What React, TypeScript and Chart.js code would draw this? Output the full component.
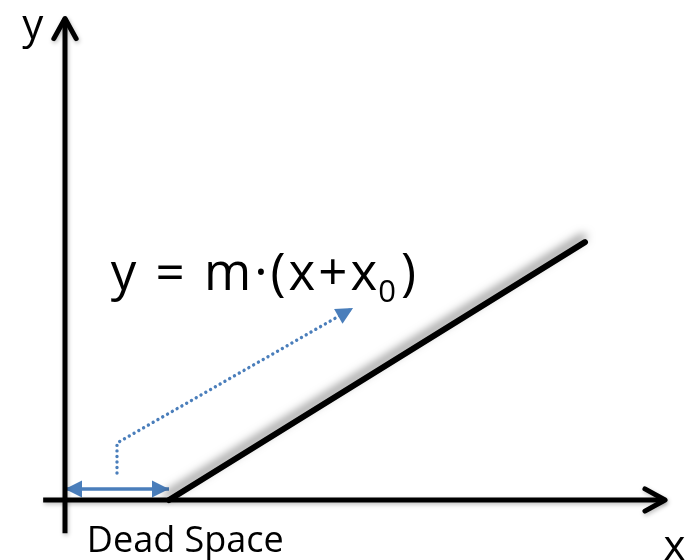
import React, { useEffect, useRef } from "react";
import { Chart, registerables } from "chart.js";

Chart.register(...registerables);

// ---- data (in units of the dead space x0) ----
const xAxisPoints = [
  { x: -0.21, y: 0 },
  { x: 5.77, y: 0 },
];
const yAxisPoints = [
  { x: 0, y: -0.32 },
  { x: 0, y: 4.63 },
];
const responsePoints = [
  { x: 1.0, y: 0 },
  { x: 5.0, y: 2.48 },
];
const deadSpacePoints = [
  { x: 0.0, y: 0.106 },
  { x: 1.0, y: 0.106 },
];
const offsetPathPoints = [
  { x: 0.5, y: 0.26 },
  { x: 0.5, y: 0.548 },
  { x: 2.77, y: 1.846 },
];
const axisLabels = [
  { text: "y", x: -0.31, y: 4.55 },
  { text: "x", x: 5.86, y: -0.46 },
];
const equationMain = "y = m·(x+x";
const equationSub = "0";
const equationEnd = ")";
const equationAnchor = { x: 0.44, y: 2.02 };
const deadSpaceLabel = { text: "Dead Space", x: 0.21, y: -0.5 };

const FONT = "'Open Sans', 'DejaVu Sans', sans-serif";
const BLUE = "#4a7ebb";

function drawChevron(ctx: CanvasRenderingContext2D, tx: number, ty: number, ang: number) {
  const len = 23;
  const spread = (29 * Math.PI) / 180;
  ctx.beginPath();
  ctx.moveTo(tx - len * Math.cos(ang - spread), ty - len * Math.sin(ang - spread));
  ctx.lineTo(tx, ty);
  ctx.lineTo(tx - len * Math.cos(ang + spread), ty - len * Math.sin(ang + spread));
  ctx.stroke();
}

function drawTriangle(ctx: CanvasRenderingContext2D, tx: number, ty: number, ang: number, len: number, half: number) {
  const bx = tx - len * Math.cos(ang);
  const by = ty - len * Math.sin(ang);
  const px = -Math.sin(ang);
  const py = Math.cos(ang);
  ctx.beginPath();
  ctx.moveTo(tx, ty);
  ctx.lineTo(bx + half * px, by + half * py);
  ctx.lineTo(bx - half * px, by - half * py);
  ctx.closePath();
  ctx.fill();
}

const diagramPlugin = {
  id: "diagramExtras",
  beforeDatasetDraw(chart: any, args: any) {
    const ds = chart.data.datasets[args.index];
    const ctx = chart.ctx;
    ctx.save();
    if (ds.shadowKind === "strong") {
      ctx.shadowColor = "rgba(0,0,0,0.5)";
      ctx.shadowBlur = 10;
      ctx.shadowOffsetX = -2;
      ctx.shadowOffsetY = -5;
    } else if (ds.shadowKind === "soft") {
      ctx.shadowColor = "rgba(0,0,0,0.25)";
      ctx.shadowBlur = 4;
      ctx.shadowOffsetX = 1;
      ctx.shadowOffsetY = 2;
    }
  },
  afterDatasetDraw(chart: any, args: any) {
    const ctx = chart.ctx;
    ctx.restore();
    const ds = chart.data.datasets[args.index];
    const xs = chart.scales.x;
    const ys = chart.scales.y;
    const pts = ds.data.map((p: any) => ({ x: xs.getPixelForValue(p.x), y: ys.getPixelForValue(p.y) }));
    const n = pts.length;
    const endAng = Math.atan2(pts[n - 1].y - pts[n - 2].y, pts[n - 1].x - pts[n - 2].x);
    const startAng = Math.atan2(pts[0].y - pts[1].y, pts[0].x - pts[1].x);
    ctx.save();
    ctx.strokeStyle = ds.borderColor;
    ctx.fillStyle = ds.borderColor;
    ctx.lineWidth = ds.borderWidth;
    ctx.lineCap = "round";
    ctx.lineJoin = "round";
    if (ds.arrowEnd === "chevron") {
      ctx.shadowColor = "rgba(0,0,0,0.25)";
      ctx.shadowBlur = 4;
      ctx.shadowOffsetX = 1;
      ctx.shadowOffsetY = 2;
      drawChevron(ctx, pts[n - 1].x, pts[n - 1].y, endAng);
    }
    if (ds.arrowEnd === "triangle") drawTriangle(ctx, pts[n - 1].x, pts[n - 1].y, endAng, ds.arrowLen, ds.arrowHalf);
    if (ds.arrowStart === "triangle") drawTriangle(ctx, pts[0].x, pts[0].y, startAng, ds.arrowLen, ds.arrowHalf);
    ctx.restore();
  },
  afterDraw(chart: any) {
    const ctx = chart.ctx;
    const xs = chart.scales.x;
    const ys = chart.scales.y;
    ctx.save();
    ctx.fillStyle = "#000";
    ctx.textBaseline = "middle";
    ctx.textAlign = "center";
    ctx.font = `42px ${FONT}`;
    axisLabels.forEach((l) => ctx.fillText(l.text, xs.getPixelForValue(l.x), ys.getPixelForValue(l.y)));

    // equation
    ctx.textAlign = "left";
    ctx.textBaseline = "alphabetic";
    let ex = xs.getPixelForValue(equationAnchor.x);
    const ey = ys.getPixelForValue(equationAnchor.y);
    ctx.font = `51px ${FONT}`;
    (ctx as any).letterSpacing = "3px";
    ctx.fillText(equationMain, ex, ey);
    ex += ctx.measureText(equationMain).width - 2;
    (ctx as any).letterSpacing = "0px";
    ctx.font = `31px ${FONT}`;
    ctx.fillText(equationSub, ex, ey + 12);
    ex += ctx.measureText(equationSub).width + 5;
    ctx.font = `51px ${FONT}`;
    ctx.fillText(equationEnd, ex, ey);

    // dead space label
    ctx.font = `36px ${FONT}`;
    ctx.fillText(deadSpaceLabel.text, xs.getPixelForValue(deadSpaceLabel.x), ys.getPixelForValue(deadSpaceLabel.y));
    ctx.restore();
  },
};

export default function App() {
  const canvasRef = useRef<HTMLCanvasElement | null>(null);

  useEffect(() => {
    document.body.style.margin = "0";
    const canvas = canvasRef.current;
    if (!canvas) return;
    const chart = new Chart(canvas, {
      type: "scatter",
      data: {
        datasets: [
          {
            data: xAxisPoints,
            showLine: true,
            borderColor: "#000",
            borderWidth: 5,
            pointRadius: 0,
            arrowEnd: "chevron",
            shadowKind: "soft",
          } as any,
          {
            data: yAxisPoints,
            showLine: true,
            borderColor: "#000",
            borderWidth: 5,
            pointRadius: 0,
            arrowEnd: "chevron",
            shadowKind: "soft",
          } as any,
          {
            data: responsePoints,
            showLine: true,
            borderColor: "#000",
            borderWidth: 6,
            borderCapStyle: "round",
            pointRadius: 0,
            shadowKind: "strong",
          } as any,
          {
            data: deadSpacePoints,
            showLine: true,
            borderColor: BLUE,
            borderWidth: 3.5,
            pointRadius: 0,
            arrowStart: "triangle",
            arrowEnd: "triangle",
            arrowLen: 17,
            arrowHalf: 8.5,
          } as any,
          {
            data: offsetPathPoints,
            showLine: true,
            borderColor: BLUE,
            borderWidth: 3.4,
            borderDash: [0.01, 5.5],
            borderCapStyle: "round",
            pointRadius: 0,
            arrowEnd: "triangle",
            arrowLen: 17,
            arrowHalf: 8.5,
          } as any,
        ],
      },
      options: {
        animation: false,
        responsive: false,
        maintainAspectRatio: false,
        layout: { padding: 0 },
        plugins: { legend: { display: false }, tooltip: { enabled: false } },
        scales: {
          x: { type: "linear", min: -0.625, max: 5.981, display: false },
          y: { type: "linear", min: -0.577, max: 4.808, display: false },
        },
      },
      plugins: [diagramPlugin],
    });
    return () => chart.destroy();
  }, []);

  return (
    <div style={{ width: 687, height: 560, background: "#fff" }}>
      <canvas ref={canvasRef} width={687} height={560} style={{ display: "block" }} />
    </div>
  );
}
